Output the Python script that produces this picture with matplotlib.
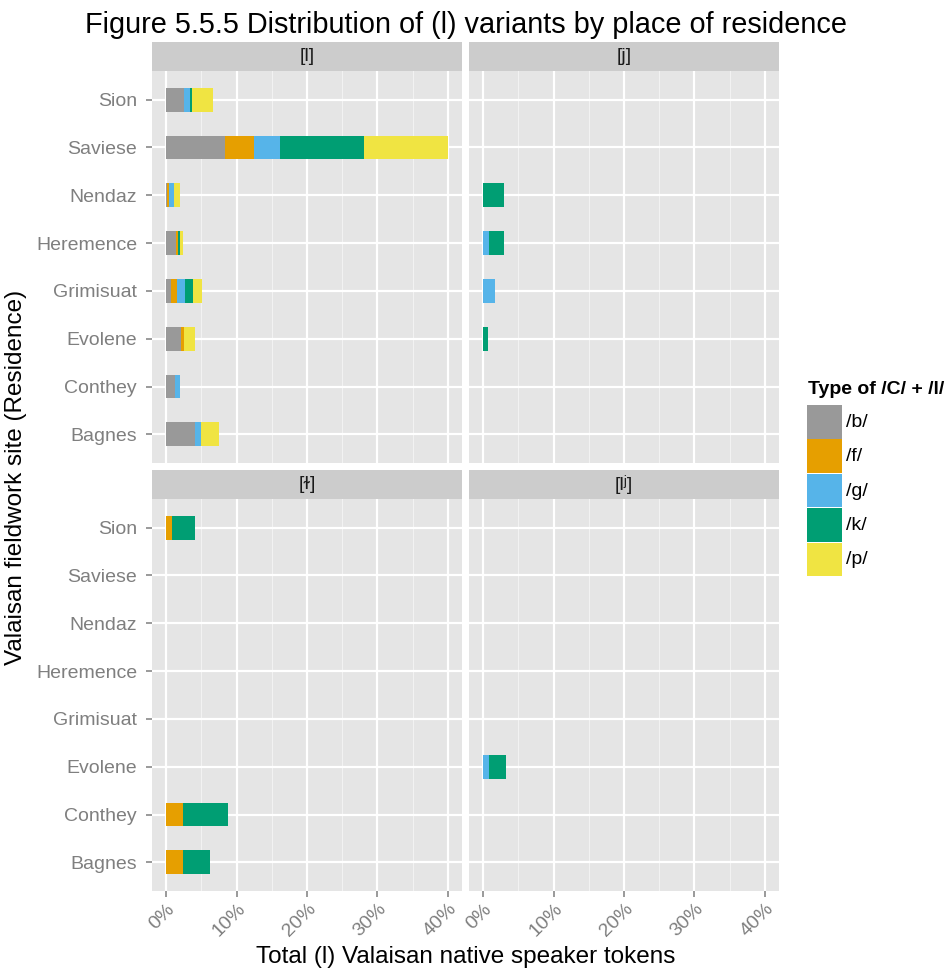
import matplotlib
matplotlib.use("Agg")
import matplotlib.pyplot as plt
from matplotlib.patches import Rectangle

plt.rcParams['font.family'] = ['Liberation Sans', 'DejaVu Sans']

# Sites, listed top to bottom
sites = ["Sion", "Saviese", "Nendaz", "Heremence", "Grimisuat", "Evolene", "Conthey", "Bagnes"]
types = ["/b/", "/f/", "/g/", "/k/", "/p/"]
type_colors = ["#999999", "#E69F00", "#56B4E9", "#009E73", "#F0E442"]
facet_titles = ["[l]", "[j]", "[ɫ]", "[lʲ]"]
x_ticks = [0, 10, 20, 30, 40]
x_tick_labels = ["0%", "10%", "20%", "30%", "40%"]

# Percent of tokens per site (same order as `sites`), by consonant type
clear_l = {
    "/b/": [2.5, 8.4, 0.14, 1.42, 0.71, 2.13, 1.28, 4.12],
    "/f/": [0, 4.05, 0.3, 0.28, 0.89, 0.43, 0, 0],
    "/g/": [0.9, 3.75, 0.7, 0, 1.1, 0, 0.71, 0.85],
    "/k/": [0.3, 11.9, 0, 0.28, 1.14, 0, 0, 0],
    "/p/": [3.0, 11.9, 0.8, 0.43, 1.27, 1.56, 0, 2.56],
}
glide_j = {
    "/g/": [0, 0, 0, 0.85, 1.7, 0, 0, 0],
    "/k/": [0, 0, 2.98, 2.13, 0, 0.71, 0, 0],
}
dark_l = {
    "/f/": [0.85, 0, 0, 0, 0, 0, 2.41, 2.41],
    "/k/": [3.27, 0, 0, 0, 0, 0, 6.4, 3.84],
}
palatal_l = {
    "/g/": [0, 0, 0, 0, 0, 0.85, 0, 0],
    "/k/": [0, 0, 0, 0, 0, 2.41, 0, 0],
}
facet_data = [clear_l, glide_j, dark_l, palatal_l]

W, H = 946, 971
fig = plt.figure(figsize=(W / 100, H / 100), dpi=100)
fig.patch.set_facecolor("white")

def px_axes(x0, y0, x1, y1):
    return fig.add_axes([x0 / W, 1 - y1 / H, (x1 - x0) / W, (y1 - y0) / H])

cols = [(152, 462), (469, 779)]
rows = [((42, 71), (71, 463)), ((470, 499), (499, 891))]
tick_grey = "#7F7F7F"
n = len(sites)
ypos = {s: n - i for i, s in enumerate(sites)}

for idx, (title, data) in enumerate(zip(facet_titles, facet_data)):
    r, c = divmod(idx, 2)
    (sy0, sy1), (py0, py1) = rows[r]
    x0, x1 = cols[c]

    # strip
    sax = px_axes(x0, sy0, x1, sy1)
    sax.set_facecolor("#CCCCCC")
    sax.set_xticks([]); sax.set_yticks([])
    for sp in sax.spines.values():
        sp.set_visible(False)
    sax.text(0.5, 0.5, title, ha="center", va="center", fontsize=14, color="#1A1A1A",
             transform=sax.transAxes)

    ax = px_axes(x0, py0, x1, py1)
    ax.set_facecolor("#E5E5E5")
    for sp in ax.spines.values():
        sp.set_visible(False)
    ax.set_xlim(-2, 42)
    ax.set_ylim(0.4, n + 0.6)
    ax.set_axisbelow(True)
    ax.set_xticks(x_ticks)
    ax.set_xticks([5, 15, 25, 35], minor=True)
    ax.set_yticks([ypos[s] for s in sites])
    ax.grid(True, which="major", color="white", linewidth=1.6)
    ax.grid(True, which="minor", axis="x", color="#F2F2F2", linewidth=0.8)
    ax.tick_params(which="minor", length=0)
    ax.tick_params(axis="y", which="major", color=tick_grey, length=4.3, width=1.1, pad=6.5)
    ax.tick_params(axis="x", which="major", color=tick_grey, length=4.3, width=1.1, pad=2.5)

    yv = [ypos[s] for s in sites]
    left = [0.0] * n
    for t, col in zip(types, type_colors):
        if t not in data:
            continue
        vals = data[t]
        ax.barh(yv, vals, left=left, height=0.5, color=col, linewidth=0)
        left = [a + b for a, b in zip(left, vals)]

    if c == 0:
        ax.set_yticklabels(sites, fontsize=14, color=tick_grey)
    else:
        ax.tick_params(axis="y", length=0, labelleft=False)
    if r == 1:
        ax.set_xticklabels(x_tick_labels, fontsize=14, color=tick_grey,
                           rotation=45, ha="right", va="top", rotation_mode="anchor")
    else:
        ax.tick_params(axis="x", length=0, labelbottom=False)

fig.text(466 / W, 1 - 25 / H, "Figure 5.5.5 Distribution of (l) variants by place of residence",
         ha="center", va="center", fontsize=20.8, color="black")
fig.text(466 / W, 1 - 957 / H, "Total (l) Valaisan native speaker tokens",
         ha="center", va="center", fontsize=17.5, color="black")
fig.text(16 / W, 1 - 477 / H, "Valaisan fieldwork site (Residence)",
         ha="center", va="center", rotation=90, fontsize=17.5, color="black")

# legend
fig.text(808 / W, 1 - 389 / H, "Type of /C/ + /l/", ha="left", va="center",
         fontsize=14, fontweight="bold", color="black")
key_h = 34.4
for i, (t, col) in enumerate(zip(types, type_colors)):
    ky0 = 405 + i * key_h
    fig.patches.append(Rectangle((807 / W, 1 - (ky0 + key_h - 0.7) / H), 35 / W, (key_h - 0.7) / H,
                                 transform=fig.transFigure, facecolor=col, edgecolor="none"))
    fig.text(846 / W, 1 - (ky0 + key_h / 2) / H, t, ha="left", va="center", fontsize=14, color="black")

fig.savefig("out.png", dpi=100)
